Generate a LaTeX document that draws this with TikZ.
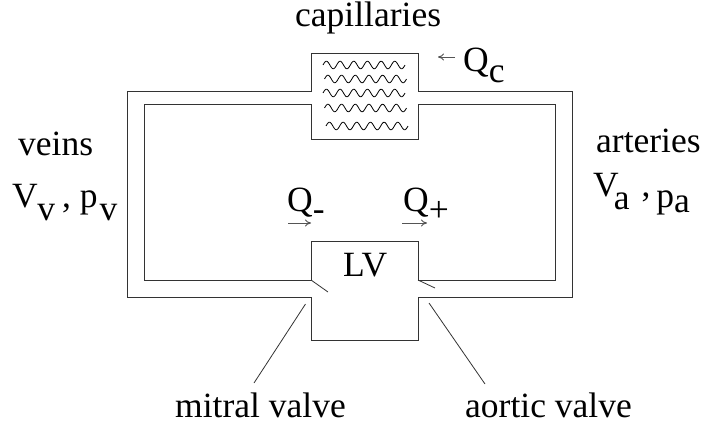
\documentclass[tikz,border=0pt]{standalone}
\usepackage{fontspec}
\setmainfont{Liberation Serif}
\usetikzlibrary{arrows.meta}
\definecolor{wall}{HTML}{333333}
\definecolor{flow}{HTML}{555555}
\newcommand{\lowsub}[2]{\raisebox{-#1pt}{#2}}
\tikzset{
  label text/.style={anchor=base west, inner sep=0pt, font=\fontsize{35.5}{40}\selectfont},
  pipe wall/.style={draw=wall, line width=1pt, line join=miter},
  flow arrow/.style={draw=flow, line width=1pt, -{To[length=6pt,width=7pt]}},
  leader line/.style={draw=wall, line width=0.8pt},
  capillary wave/.style={draw=black, line width=0.8pt, smooth}
}
\begin{document}
\begin{tikzpicture}[x=1pt,y=-1pt]
\useasboundingbox (0,0) rectangle (701,423);
% outer wall and inner wall of the circuit
\draw[pipe wall] (311,91.5) -- (127,91.5) -- (127,297) -- (311,297) -- (311,340) -- (418,340) -- (418,297) -- (572,297) -- (572,91.5) -- (418,91.5) -- (418,53) -- (311,53) -- cycle;
\draw[pipe wall] (144,104.5) -- (311,104.5) -- (311,139) -- (418,139) -- (418,104.5) -- (555,104.5) -- (555,280) -- (418,280) -- (418,241.5) -- (311,241.5) -- (311,280) -- (144,280) -- cycle;
% capillaries
\foreach \xstart/\ystart in {323/65, 324.5/79, 323/93, 324.5/108, 326/126}
  \draw[capillary wave] plot[domain=0:82,samples=90] ({\xstart+\x},{\ystart-3.8*sin(\x*26.33)});
% valve flaps
\draw[leader line] (311,280) -- (328,292);
\draw[leader line] (418,280) -- (435,288);
% labels
\node[label text] (capillaries) at (295,27) {capillaries};
\node[label text] (qc) at (463,71) {Q\lowsub{11.5}{c}};
\node[label text] (veins) at (18,155) {veins};
\node[label text] (vv) at (12,207) {V\hspace{-0.5pt}\lowsub{13}{v}\hspace{7pt},\hspace{9pt}p\hspace{2pt}\lowsub{13}{v}};
\node[label text] (arteries) at (596,152) {arteries};
\node[label text] (va) at (593,196.5) {V\hspace{-5pt}\lowsub{13}{a}\hspace{12pt},\hspace{6pt}\lowsub{10.5}{p}\lowsub{16}{a}};
\node[label text] (qminus) at (287,211) {Q\lowsub{9}{-}};
\node[label text] (qplus) at (403,211) {Q\lowsub{10.5}{+}};
\node[label text] (lv) at (343,276) {LV};
\node[label text] (mitral) at (175,417) {mitral valve};
\node[label text] (aortic) at (465,417) {aortic valve};
% flow arrows
\coordinate (qcfrom) at (455,57);
\coordinate (qcto) at (438,57);
\coordinate (qmfrom) at (288,223);
\coordinate (qmto) at (311,223);
\coordinate (qpfrom) at (402,223);
\coordinate (qpto) at (427,223);
\draw[flow arrow] (qcfrom) -- (qcto);
\draw[flow arrow] (qmfrom) -- (qmto);
\draw[flow arrow] (qpfrom) -- (qpto);
% leaders to the valves
\coordinate (mitralend) at (305.5,304);
\coordinate (mitralfoot) at (254,383);
\coordinate (aorticend) at (429,303);
\coordinate (aorticfoot) at (485,384);
\draw[leader line] (mitralfoot) -- (mitralend);
\draw[leader line] (aorticfoot) -- (aorticend);
\end{tikzpicture}
\end{document}
